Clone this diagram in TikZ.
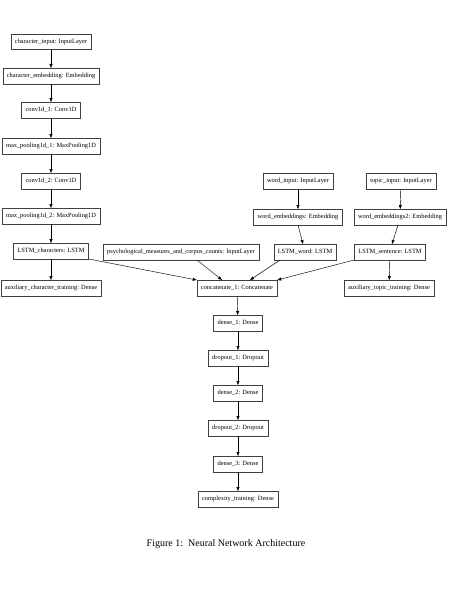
\documentclass[tikz,border=0pt]{standalone}
\usepackage{fontspec}
\setmainfont{Liberation Serif}
\usetikzlibrary{arrows.meta}
\begin{document}
\begin{tikzpicture}[x=1pt,y=-1pt,
  layer/.style={draw=black!75,line width=0.5pt,rectangle,minimum height=15.5pt,inner xsep=4pt,inner ysep=0pt,font=\fontsize{6.4}{7}\selectfont,fill=white},
  conn/.style={draw=black,line width=0.45pt,-{Triangle[length=4pt,width=3pt]}}]
\useasboundingbox (0,0) rectangle (450,610);
% left column
\node[layer] (ci) at (51,42) {character\_input: InputLayer};
\node[layer] (ce) at (51,76) {character\_embedding: Embedding};
\node[layer] (c1) at (51,110) {conv1d\_1: Conv1D};
\node[layer] (m1) at (51,146) {max\_pooling1d\_1: MaxPooling1D};
\node[layer] (c2) at (51,181) {conv1d\_2: Conv1D};
\node[layer] (m2) at (51,216) {max\_pooling1d\_2: MaxPooling1D};
\node[layer] (lc) at (51,251) {LSTM\_characters: LSTM};
\node[layer] (ac) at (51,288) {auxiliary\_character\_training: Dense};
% right inputs
\node[layer] (wi) at (298,181) {word\_input: InputLayer};
\node[layer] (ti) at (401,181) {topic\_input: InputLayer};
\node[layer] (we) at (298,217) {word\_embeddings: Embedding};
\node[layer] (we2) at (400,217) {word\_embeddings2: Embedding};
\node[layer] (ps) at (181,252) {psychological\_measures\_and\_corpus\_counts: InputLayer};
\node[layer] (lw) at (305,252) {LSTM\_word: LSTM};
\node[layer] (ls) at (390,252) {LSTM\_sentence: LSTM};
\node[layer] (cc) at (237,288) {concatenate\_1: Concatenate};
\node[layer] (at) at (389,288) {auxiliary\_topic\_training: Dense};
% bottom column
\node[layer] (d1) at (238,323) {dense\_1: Dense};
\node[layer] (do1) at (238,358) {dropout\_1: Dropout};
\node[layer] (d2) at (238,393) {dense\_2: Dense};
\node[layer] (do2) at (238,428) {dropout\_2: Dropout};
\node[layer] (d3) at (238,464) {dense\_3: Dense};
\node[layer] (ct) at (238,499) {complexity\_training: Dense};
% caption
\node[font=\fontsize{10}{12}\selectfont,inner sep=0pt] (cap) at (226,544) {Figure 1:\enspace Neural Network Architecture};
% connectors
\draw[conn] (ci) -- (ce);
\draw[conn] (ce) -- (c1);
\draw[conn] (c1) -- (m1);
\draw[conn] (m1) -- (c2);
\draw[conn] (c2) -- (m2);
\draw[conn] (m2) -- (lc);
\draw[conn] (lc) -- (ac);
\draw[conn] (wi) -- (we);
\draw[conn] (ti) -- (we2);
\draw[conn] (we.south) -- (lw.north -| 303,0);
\draw[conn] (we2.south -| 398,0) -- (ls.north -| 392,0);
\draw[conn] (lc.south east) -- (cc.north west);
\draw[conn] ([xshift=16pt]ps.south) -- ([xshift=-15pt]cc.north);
\draw[conn] ([xshift=-25pt]lw.south) -- ([xshift=13pt]cc.north);
\draw[conn] (ls.south west) -- (cc.north east);
\draw[conn] (ls) -- (at);
\draw[conn] (cc) -- (d1);
\draw[conn] (d1) -- (do1);
\draw[conn] (do1) -- (d2);
\draw[conn] (d2) -- (do2);
\draw[conn] (do2) -- (d3);
\draw[conn] (d3) -- (ct);
\end{tikzpicture}
\end{document}
